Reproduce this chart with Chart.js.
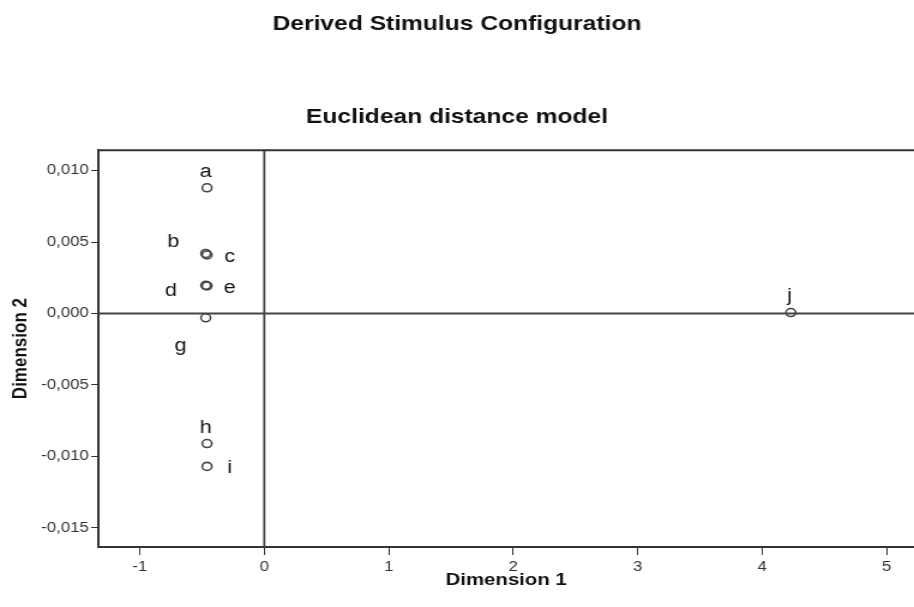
<!DOCTYPE html>
<html>
<head>
<meta charset="utf-8">
<script src="https://cdn.jsdelivr.net/npm/chart.js@4"></script>
<style>
  body { margin: 0; background: #fff; }
  canvas { display: block; }
</style>
</head>
<body>
<!-- the original picture is stretched sideways, so the canvas is too -->
<canvas id="mdsChart" width="762" height="607" style="width:914px;height:607px"></canvas>
<script>
const stimuli = ['a', 'b', 'c', 'd', 'e', 'g', 'h', 'i', 'j'];
const dim1 = [-0.46, -0.47, -0.46, -0.47, -0.46, -0.47, -0.46, -0.46, 4.23];
const dim2 = [0.0088, 0.0042, 0.0041, 0.00197, 0.00193, -0.0003, -0.0091, -0.0107, 0.00007];
const labelPos = ['top', 'upperLeft', 'right', 'lowerLeft', 'right', 'below', 'top', 'right', 'top'];

const xTicks = [-1, 0, 1, 2, 3, 4, 5];
const xTickLabels = ['-1', '0', '1', '2', '3', '4', '5'];
const yTicks = [-0.015, -0.010, -0.005, 0, 0.005, 0.010];
const yTickLabels = ['-0,015', '-0,010', '-0,005', '0,000', '0,005', '0,010'];

const offsets = {
  top: [-1, -16],
  upperLeft: [-27, -11],
  right: [19, 2],
  lowerLeft: [-29, 6],
  below: [-21, 28]
};

Chart.defaults.font.family = "'Liberation Sans', Arial, sans-serif";

const frameAndLabels = {
  id: 'frameAndLabels',
  beforeDatasetsDraw(chart) {
    const { ctx, chartArea, scales: { x, y } } = chart;
    const x0 = x.getPixelForValue(0);
    const y0 = y.getPixelForValue(0);
    ctx.save();
    ctx.strokeStyle = '#444';
    ctx.lineWidth = 1.8;
    ctx.beginPath();
    ctx.moveTo(x0, chartArea.top);
    ctx.lineTo(x0, chartArea.bottom);
    ctx.moveTo(chartArea.left, y0);
    ctx.lineTo(chartArea.right, y0);
    ctx.stroke();
    ctx.strokeStyle = '#333';
    ctx.lineWidth = 2;
    ctx.beginPath();
    ctx.moveTo(chartArea.left, chartArea.top);
    ctx.lineTo(chartArea.right, chartArea.top);
    ctx.stroke();
    ctx.restore();
  },
  afterDatasetsDraw(chart) {
    const { ctx } = chart;
    const pts = chart.getDatasetMeta(0).data;
    ctx.save();
    ctx.font = "18px 'Liberation Sans', Arial, sans-serif";
    ctx.fillStyle = '#111';
    ctx.textAlign = 'center';
    ctx.textBaseline = 'middle';
    pts.forEach((p, i) => {
      const o = offsets[labelPos[i]];
      ctx.fillText(stimuli[i], p.x + o[0], p.y + o[1]);
    });
    ctx.restore();
  }
};

new Chart(document.getElementById('mdsChart'), {
  type: 'scatter',
  data: {
    datasets: [{
      data: dim1.map((v, i) => ({ x: v, y: dim2[i] })),
      pointStyle: 'circle',
      pointRadius: 4,
      pointBorderWidth: 1.6,
      borderColor: '#444',
      backgroundColor: 'rgba(0,0,0,0)'
    }]
  },
  options: {
    responsive: false,
    animation: false,
    layout: { padding: 0, autoPadding: false },
    plugins: {
      legend: { display: false },
      tooltip: { enabled: false },
      title: {
        display: true,
        text: 'Derived Stimulus Configuration',
        color: '#111',
        font: { size: 20.5, weight: 'bold' },
        padding: { top: 12, bottom: 0 }
      },
      subtitle: {
        display: true,
        text: 'Euclidean distance model',
        color: '#111',
        font: { size: 20.5, weight: 'bold' },
        padding: { top: 68, bottom: 21 }
      }
    },
    scales: {
      x: {
        type: 'linear',
        min: -1.333,
        max: 5.22,
        afterBuildTicks: s => { s.ticks = xTicks.map(v => ({ value: v })); },
        afterFit: s => { s.height = 60; s.paddingLeft = 0; s.paddingRight = 0; },
        ticks: {
          autoSkip: false,
          maxRotation: 0,
          padding: 4,
          color: '#333',
          font: { size: 14 },
          callback: (v, i) => xTickLabels[i]
        },
        grid: { drawOnChartArea: false, tickLength: 8, color: '#333' },
        border: { color: '#333', width: 2 },
        title: {
          display: true,
          text: 'Dimension 1',
          color: '#111',
          font: { size: 17, weight: 'bold' },
          padding: { top: 0, bottom: 16 }
        }
      },
      y: {
        type: 'linear',
        min: -0.01634,
        max: 0.01143,
        afterBuildTicks: s => { s.ticks = yTicks.map(v => ({ value: v })); },
        afterFit: s => { s.width = 82; s.paddingTop = 0; s.paddingBottom = 0; },
        ticks: {
          autoSkip: false,
          padding: 2,
          color: '#333',
          font: { size: 14 },
          callback: (v, i) => yTickLabels[i]
        },
        grid: { drawOnChartArea: false, tickLength: 6, color: '#333' },
        border: { color: '#333', width: 2 },
        title: {
          display: true,
          text: 'Dimension 2',
          color: '#111',
          font: { size: 17, weight: 'bold' },
          padding: { top: 7, bottom: 0 }
        }
      }
    }
  },
  plugins: [frameAndLabels]
});
</script>
</body>
</html>
